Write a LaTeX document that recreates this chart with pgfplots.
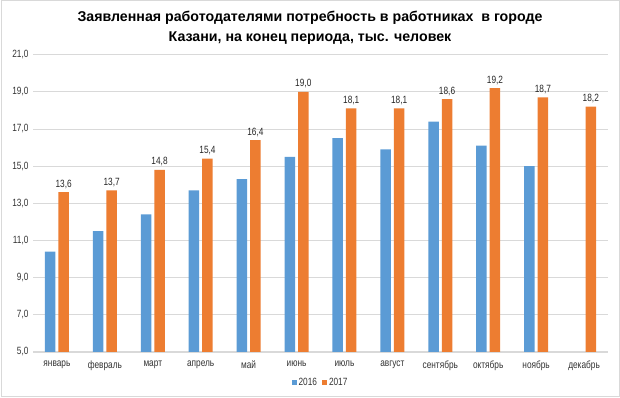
\documentclass[border=0pt]{standalone}
\usepackage{fontspec}
\setmainfont{Liberation Sans}
\newfontfamily\cond[FakeStretch=0.79]{Liberation Sans}
\usepackage{pgfplots}
\pgfplotsset{compat=1.18}
\definecolor{cblue}{HTML}{5B9BD5}
\definecolor{corange}{HTML}{ED7D31}
\definecolor{gridc}{HTML}{D9D9D9}
\begin{document}
\begin{tikzpicture}[x=1pt,y=1pt]
\path[use as bounding box] (0,0) rectangle (620,398);
\draw[gridc, line width=1pt] (1,1) rectangle (619,397);
\node[font=\bfseries\fontsize{14.2}{20}\selectfont, align=center] at (310,370) {Заявленная работодателями потребность в работниках \ в городе\\Казани, на конец периода, тыс. человек};
\begin{axis}[
  at={(33pt,46pt)}, anchor=south west,
  scale only axis, width=575pt, height=297.4pt,
  xmin=-0.5, xmax=11.5, ymin=5, ymax=21,
  ybar=3pt, bar width=10.5pt,
  ytick={5,7,...,21},
  yticklabel style={xshift=-1pt, /pgf/number format/.cd, fixed, fixed zerofill, precision=1, use comma},
  /pgf/number format/assume math mode=true,
  xtick={0,...,11},
  xticklabels={январь,февраль,март,апрель,май,июнь,июль,август,сентябрь,октябрь,ноябрь,декабрь},
  tick label style={font=\cond\fontsize{10.5}{12}\selectfont, text=black!80},
  xticklabel style={yshift=-5pt},
  major tick length=0pt,
  ymajorgrids, grid style={gridc, line width=0.8pt},
  axis x line*=bottom, axis y line*=left,
  x axis line style={gridc, line width=1pt, -},
  y axis line style={draw=none},
  legend style={at={(0.5,-0.104)}, anchor=center, draw=none, fill=none, legend columns=2,
    font=\cond\fontsize{10.5}{12}\selectfont, text=black!80,
    /tikz/every even column/.append style={column sep=3pt}},
  legend image code/.code={\fill[#1] (0pt,-2.5pt) rectangle (5pt,2.5pt);},
  clip=false,
]
\addplot[fill=cblue, draw=none] coordinates {
(0,10.4) (1,11.5) (2,12.4) (3,13.7) (4,14.3) (5,15.5) (6,16.5) (7,15.9) (8,17.4) (9,16.1) (10,15.0)};
\addplot[fill=corange, draw=none,
  nodes near coords, every node near coord/.append style={font=\cond\fontsize{10.5}{12}\selectfont, text=black!85, /pgf/number format/.cd, fixed, fixed zerofill, precision=1, use comma, assume math mode=true}] coordinates {
(0,13.6) (1,13.7) (2,14.8) (3,15.4) (4,16.4) (5,19.0) (6,18.1) (7,18.1) (8,18.6) (9,19.2) (10,18.7) (11,18.2)};
\legend{2016,2017}
\end{axis}
\end{tikzpicture}
\end{document}
